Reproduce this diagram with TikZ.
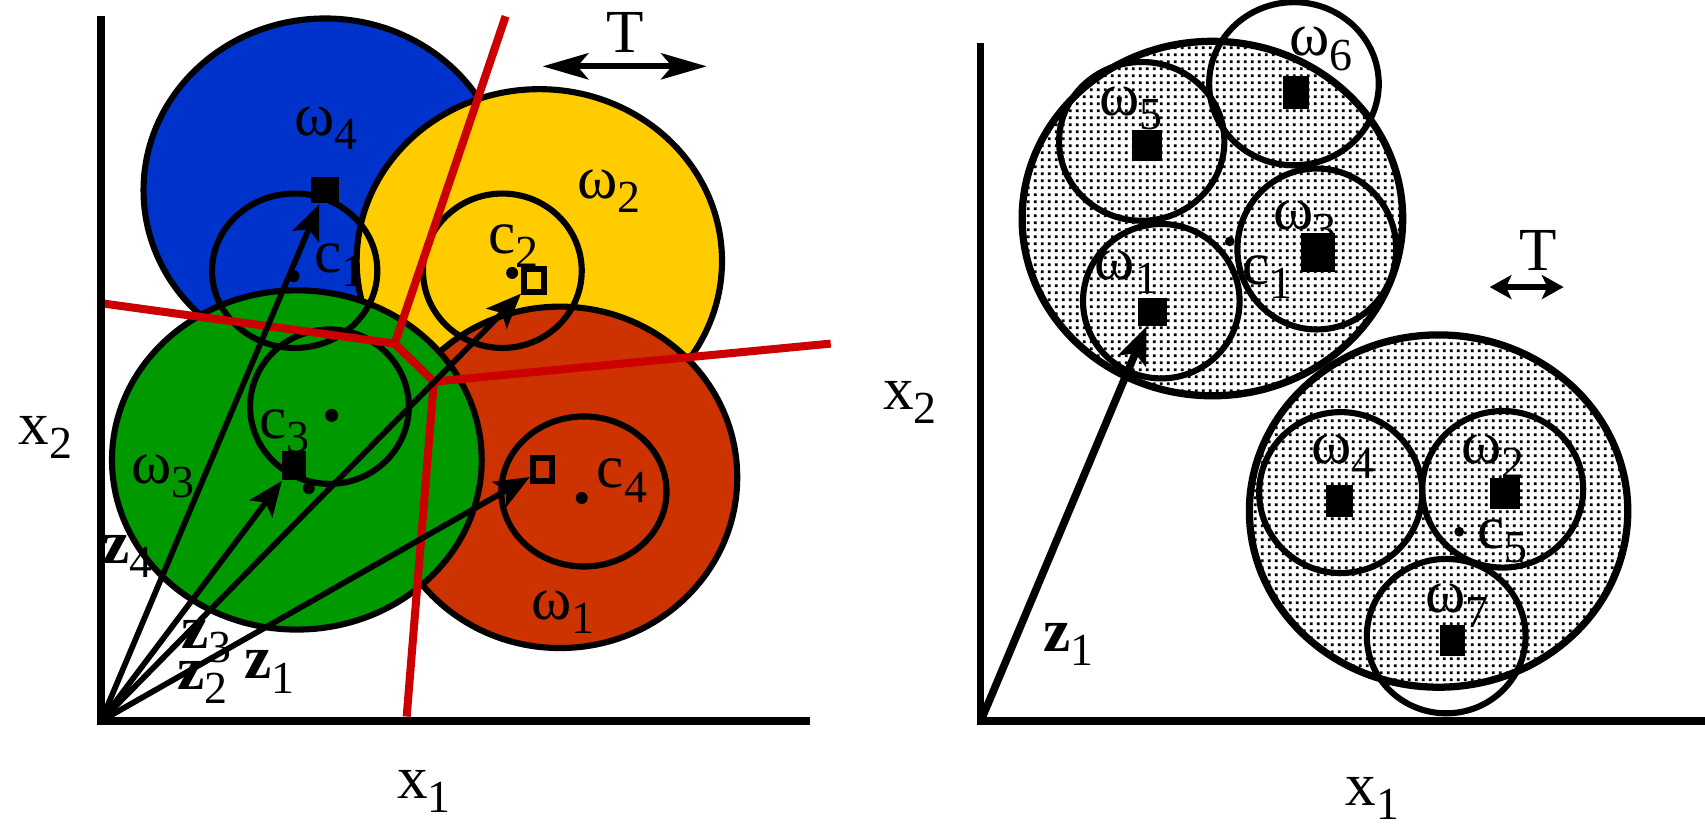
\documentclass[tikz,border=0pt]{standalone}
\usepackage{fontspec}
\setmainfont{Liberation Serif}
\usetikzlibrary{arrows.meta,patterns.meta}
\definecolor{cblue}{HTML}{0033CC}
\definecolor{cyellow}{HTML}{FFCC00}
\definecolor{cgreen}{HTML}{009900}
\definecolor{corange}{HTML}{CC3300}
\definecolor{cred}{HTML}{CC0000}
\tikzdeclarepattern{
  name=fdots, type=uncolored,
  bounding box={(0pt,0pt) and (1.8pt,1.8pt)},
  tile size={(1.8pt,1.8pt)},
  code={\fill (0.5pt,0.5pt) rectangle (1.25pt,1.25pt);}
}
\newcommand\sbs[1]{\raisebox{-0.13cm}{\fontsize{12}{12}\selectfont #1}}
\begin{document}
\begin{tikzpicture}[x=0.01cm,y=-0.01cm,
  every node/.style={inner sep=0pt, font=\fontsize{16}{19}\selectfont},
  ring/.style={draw=black, line width=1.6pt},
  bigring/.style={draw=black, line width=1.9pt},
  axis/.style={draw=black, line width=1.9pt},
  border/.style={draw=cred, line width=2.1pt, line join=round},
  vec/.style={draw=black, line width=1.5pt, -{Stealth[length=0.32cm,width=0.26cm,inset=0.07cm]}},
  bigvec/.style={draw=black, line width=2pt, -{Stealth[length=0.34cm,width=0.27cm,inset=0.07cm]}},
  tarrow/.style={draw=black, line width=1.6pt, {Stealth[length=0.42cm,width=0.24cm,inset=0.1cm]}-{Stealth[length=0.42cm,width=0.24cm,inset=0.1cm]}},
  smalltarrow/.style={draw=black, line width=1.4pt, {Stealth[length=0.2cm,width=0.22cm,inset=0.05cm]}-{Stealth[length=0.2cm,width=0.22cm,inset=0.05cm]}},
  fsq/.style={fill=black, minimum width=0.25cm, minimum height=0.27cm},
  osq/.style={draw=black, line width=1.6pt, minimum width=0.18cm, minimum height=0.21cm},
  dotfill/.style={pattern=fdots, pattern color=black}
]
\useasboundingbox (0,0) rectangle (1568,761);

% ================= LEFT PANEL =================
\draw[ring, fill=cblue] (299,175) ellipse [x radius=167, y radius=158];
\draw[ring, fill=cyellow] (496,240) ellipse [x radius=168, y radius=158];
\draw[ring, fill=corange] (515,439) ellipse [x radius=163, y radius=157];
\draw[ring, fill=cgreen] (273,423) ellipse [x radius=170, y radius=156];

\node (w4) at (300,118) {ω\sbs{4}};
\node (w2) at (560,176) {ω\sbs{2}};
\node (w3) at (150,438) {ω\sbs{3}};
\node (w1) at (518,563) {ω\sbs{1}};
\node (lc1) at (312,244) {c\sbs{1}};
\node (lc2) at (472,226) {c\sbs{2}};
\node (lc3) at (262,397) {c\sbs{3}};
\node (lc4) at (572,442) {c\sbs{4}};

\draw[ring] (271,249) ellipse [x radius=76, y radius=71];
\draw[ring] (462,249) ellipse [x radius=73, y radius=71];
\draw[ring] (303,374) ellipse [x radius=73, y radius=71];
\draw[ring] (537,452) ellipse [x radius=76, y radius=69];

\coordinate (j1) at (363,316);
\coordinate (j2) at (399,351);
\coordinate (rt) at (465,15);
\coordinate (rl) at (94,279);
\coordinate (rr) at (764,316);
\coordinate (rb) at (374,659);
\draw[border] (rt) -- (j1) -- (j2) -- (rr);
\draw[border] (rl) -- (j1);
\draw[border] (j2) -- (rb);

\fill (270,254) circle (5.5);
\fill (471,251) circle (5.5);
\fill (305,382) circle (6);
\fill (535,458) circle (5.5);
\fill (284,449) circle (5.5);

\node[fsq, minimum width=0.26cm, minimum height=0.24cm] (s4) at (299,175) {};
\node[fsq, minimum width=0.22cm, minimum height=0.27cm] (s3) at (270,428) {};
\node[osq] (s2) at (491,258) {};
\node[osq] (s1) at (499,432) {};

\coordinate (O1) at (93,663);
\coordinate (Y1) at (93,15);
\coordinate (X1) at (745,663);
\draw[vec] (O1) -- (s4);
\draw[vec] (O1) -- (s3);
\draw[vec] (O1) -- (s2);
\draw[vec] (O1) -- (s1);
\draw[axis] (Y1) -- (O1) -- (X1);

\node (z4) at (117,512) {\textbf{z}\sbs{4}};
\node (z3) at (190,590) {\textbf{z}\sbs{3}};
\node (z2) at (186,628) {\textbf{z}\sbs{2}};
\node (z1) at (248,618) {\textbf{z}\sbs{1}};
\node (xl2) at (42,402) {x\sbs{2}};
\node (xl1) at (390,728) {x\sbs{1}};
\node (TL) at (575,30) {T};
\coordinate (TLa) at (499,61);
\coordinate (TLb) at (650,61);
\draw[tarrow] (TLa) -- (TLb);

% ================= RIGHT PANEL =================
\fill[dotfill] (1115,201) ellipse [x radius=175, y radius=163];
\fill[dotfill] (1323,470) ellipse [x radius=174, y radius=162];
\draw[bigring] (1115,201) ellipse [x radius=175, y radius=163];
\draw[bigring] (1323,470) ellipse [x radius=174, y radius=162];

\node (r6) at (1215,45) {ω\sbs{6}};
\node (r5) at (1040,100) {ω\sbs{5}};
\node (r3) at (1200,205) {ω\sbs{3}};
\node (rc1) at (1166,255) {c\sbs{1}};
\node (r1) at (1036,250) {ω\sbs{1}};
\node (r4) at (1235,420) {ω\sbs{4}};
\node (r2) at (1373,420) {ω\sbs{2}};
\node (rc5) at (1382,498) {c\sbs{5}};
\node (r7) at (1340,557) {ω\sbs{7}};

\draw[ring] (1050,130) ellipse [x radius=76, y radius=73];
\draw[ring] (1190,77) ellipse [x radius=78, y radius=75];
\draw[ring] (1211,229) ellipse [x radius=73, y radius=74];
\draw[ring] (1068,277) ellipse [x radius=72, y radius=71];
\draw[ring] (1233,453) ellipse [x radius=75, y radius=74];
\draw[ring] (1382,450) ellipse [x radius=74, y radius=72];
\draw[ring] (1330,585) ellipse [x radius=73, y radius=71];

\fill (1131,222) circle (4.5);
\fill (1342,489) circle (4.5);

\node[fsq, minimum width=0.27cm, minimum height=0.29cm] (q5) at (1055,134) {};
\node[fsq, minimum width=0.24cm, minimum height=0.31cm] (q6) at (1192,85) {};
\node[fsq, minimum width=0.31cm, minimum height=0.36cm] (q3) at (1212,232) {};
\node[fsq, minimum width=0.27cm, minimum height=0.25cm] (q1) at (1060,287) {};
\node[fsq, minimum width=0.25cm, minimum height=0.29cm] (q4) at (1232,461) {};
\node[fsq, minimum width=0.27cm, minimum height=0.29cm] (q2) at (1384,454) {};
\node[fsq, minimum width=0.23cm, minimum height=0.28cm] (q7) at (1336,589) {};

\coordinate (O2) at (902,663);
\coordinate (Y2) at (902,40);
\coordinate (X2) at (1568,663);
\draw[bigvec] (O2) -- (q1);
\draw[axis] (Y2) -- (O2) -- (X2);

\node (rz1) at (983,593) {\textbf{z}\sbs{1}};
\node (rxl2) at (837,370) {x\sbs{2}};
\node (rxl1) at (1262,734) {x\sbs{1}};
\node (TR) at (1415,230) {T};
\coordinate (TRa) at (1370,264);
\coordinate (TRb) at (1438,264);
\draw[smalltarrow] (TRa) -- (TRb);
\end{tikzpicture}
\end{document}
